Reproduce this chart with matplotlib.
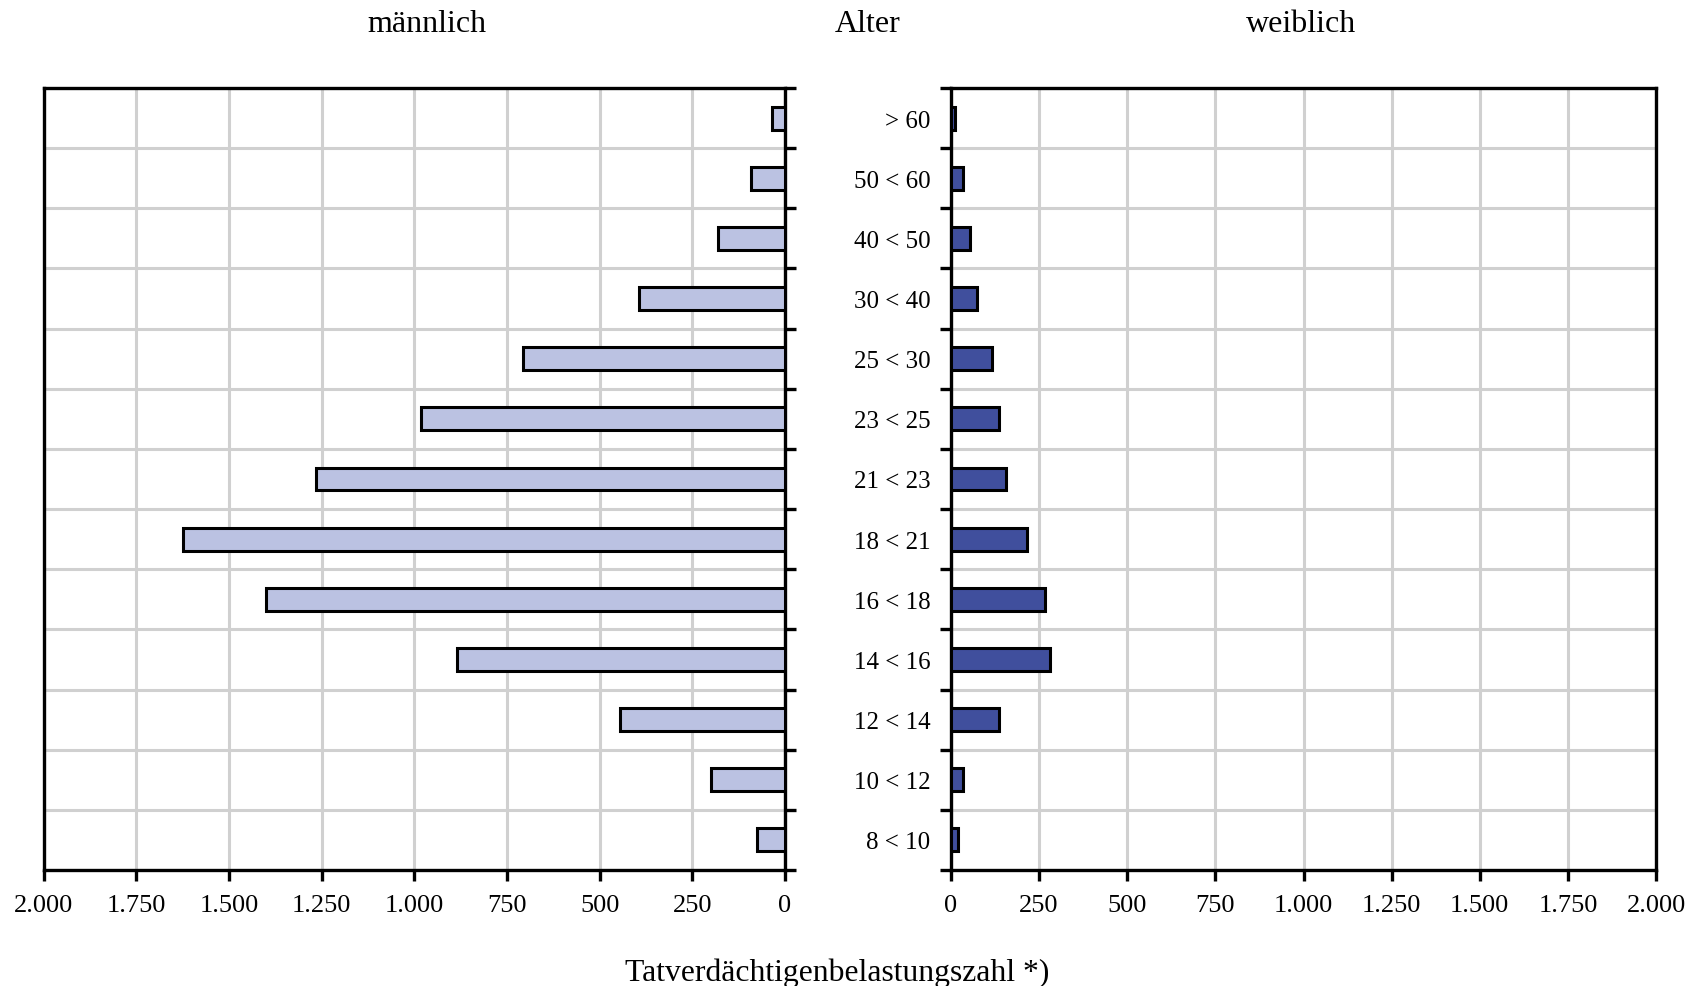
import matplotlib
matplotlib.use("Agg")
import matplotlib.pyplot as plt
import numpy as np

plt.rcParams['font.family'] = ['Liberation Serif', 'DejaVu Serif']

# Data (bottom -> top)
age_groups = ["8 < 10", "10 < 12", "12 < 14", "14 < 16", "16 < 18", "18 < 21",
              "21 < 23", "23 < 25", "25 < 30", "30 < 40", "40 < 50", "50 < 60", "> 60"]
male = [75, 200, 445, 884, 1400, 1625, 1265, 982, 708, 395, 182, 93, 34]
female = [20, 33, 136, 280, 268, 217, 155, 136, 116, 73, 53, 33, 12]
x_ticks = [0, 250, 500, 750, 1000, 1250, 1500, 1750, 2000]
x_ticklabels = ["0", "250", "500", "750", "1.000", "1.250", "1.500", "1.750", "2.000"]

W, H = 1697, 987
fig = plt.figure(figsize=(W / 100, H / 100), dpi=100)

ax_bottom = 1 - 871 / H
ax_height = (871 - 89) / H
ax1 = fig.add_axes([43.5 / W, ax_bottom, (785 - 43.5) / W, ax_height])
ax2 = fig.add_axes([951 / W, ax_bottom, (1656 - 951) / W, ax_height])

y = np.arange(len(age_groups))
bounds = np.arange(-0.5, len(age_groups), 1.0)

grid_col = '#d0d0d0'
spine_w = 2.4
bar_h = 0.38

for ax, vals, col in [(ax1, male, '#bbc2e2'), (ax2, female, '#404f9d')]:
    ax.barh(y, vals, height=bar_h, color=col, edgecolor='black', linewidth=2.2, zorder=3)
    ax.set_ylim(-0.5, len(age_groups) - 0.5)
    ax.set_xticks(x_ticks)
    ax.set_xticklabels(x_ticklabels, fontsize=19)
    ax.set_yticks(bounds, minor=True)
    ax.set_axisbelow(True)
    ax.grid(axis='x', which='major', color=grid_col, linewidth=2.2)
    ax.grid(axis='y', which='minor', color=grid_col, linewidth=2.2)
    ax.grid(axis='y', which='major', visible=False)
    for s in ax.spines.values():
        s.set_linewidth(spine_w)
        s.set_color('black')
    ax.tick_params(axis='x', direction='out', length=8, width=spine_w, pad=9)

ax1.set_xlim(2000, 0)
ax2.set_xlim(0, 2000)

# left panel: ticks on right side at category boundaries, no labels
ax1.set_yticks([])
ax1.yaxis.set_ticks_position('right')
ax1.tick_params(axis='y', which='minor', direction='out', length=8, width=spine_w,
                right=True, left=False)

# right panel: boundary ticks on left, category labels at centers
ax2.set_yticks(y)
ax2.set_yticklabels(age_groups, fontsize=18)
ax2.tick_params(axis='y', which='major', length=0, pad=15)
ax2.tick_params(axis='y', which='minor', direction='out', length=8, width=spine_w,
                left=True, right=False)

# titles
fig.text(427 / W, 1 - 32 / H, "männlich", ha='center', va='baseline', fontsize=23)
fig.text(868 / W, 1 - 32 / H, "Alter", ha='center', va='baseline', fontsize=23)
fig.text(1301 / W, 1 - 32 / H, "weiblich", ha='center', va='baseline', fontsize=23)
fig.text(837 / W, 1 - 981 / H, "Tatverdächtigenbelastungszahl *)", ha='center',
         va='baseline', fontsize=22.8)

fig.savefig("out.png", dpi=100)
